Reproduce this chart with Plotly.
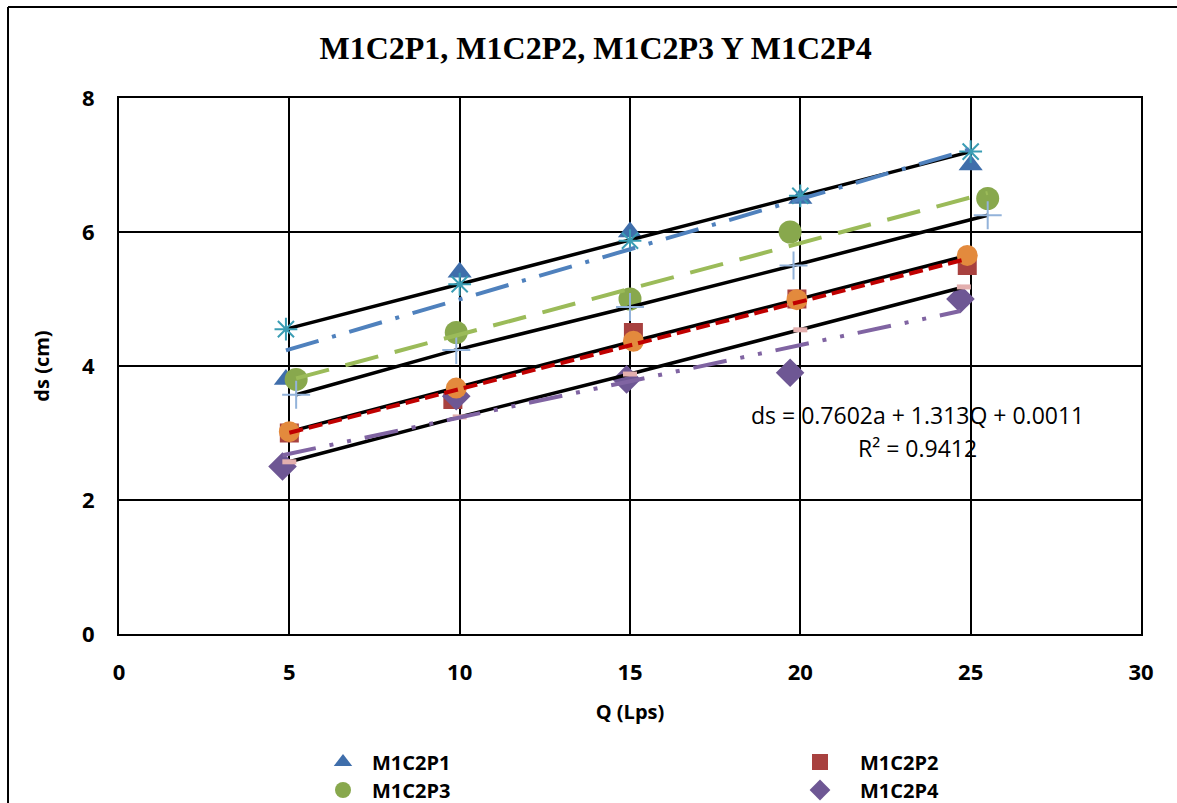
import numpy as np
import plotly.graph_objects as go

# ---- data ----
p1_x = [4.9, 10, 15, 20, 25]
p1_y = [3.8, 5.4, 6.0, 6.5, 7.0]
p2_x = [5.0, 9.8, 15.1, 19.9, 24.9]
p2_y = [3.0, 3.5, 4.5, 5.0, 5.5]
p3_x = [5.2, 9.9, 15.0, 19.7, 25.5]
p3_y = [3.8, 4.5, 5.0, 6.0, 6.5]
p4_x = [4.8, 9.9, 14.9, 19.7, 24.7]
p4_y = [2.5, 3.55, 3.8, 3.9, 5.0]

# model (calculated) series
m1_x = [4.9, 10, 15, 20, 25]
m1_y = [4.55, 5.22, 5.87, 6.54, 7.2]
m2_x = [5.0, 9.9, 15.1, 19.9, 24.9]
m2_y = [3.02, 3.67, 4.37, 4.99, 5.65]
m3_x = [5.2, 9.9, 15.0, 19.8, 25.5]
m3_y = [3.57, 4.24, 4.88, 5.5, 6.25]
m4_x = [5.0, 10.0, 15.0, 20.0, 24.8]
m4_y = [2.57, 3.24, 3.88, 4.54, 5.18]

names = ["M1C2P1", "M1C2P2", "M1C2P3", "M1C2P4"]
eq_text = "ds = 0.7602a + 1.313Q + 0.0011"
r2_text = "R² = 0.9412"
title_text = "M1C2P1, M1C2P2, M1C2P3 Y M1C2P4"
x_ticks = [0, 5, 10, 15, 20, 25, 30]
y_ticks = [0, 2, 4, 6, 8]

fig = go.Figure()

FONT = "Open Sans"

def trend(xs, ys):
    a, b = np.polyfit(xs, ys, 1)
    xx = np.array([min(xs), max(xs)])
    return xx, a * xx + b

# measured series
fig.add_trace(go.Scatter(x=p1_x, y=p1_y, mode="markers", name=names[0], legend="legend",
                         marker=dict(symbol="triangle-up", size=21, color="#3F6EAB")))
fig.add_trace(go.Scatter(x=p2_x, y=p2_y, mode="markers", name=names[1], legend="legend2",
                         marker=dict(symbol="square", size=19, color="#A8413F")))
fig.add_trace(go.Scatter(x=p3_x, y=p3_y, mode="markers", name=names[2], legend="legend3",
                         marker=dict(symbol="circle", size=23, color="#88A84D")))
fig.add_trace(go.Scatter(x=p4_x, y=p4_y, mode="markers", name=names[3], legend="legend4",
                         marker=dict(symbol="diamond", size=22, color="#6E5794")))

# model series with black lines
fig.add_trace(go.Scatter(x=m1_x, y=m1_y, mode="lines+markers", showlegend=False,
                         line=dict(color="black", width=3.5),
                         marker=dict(symbol="asterisk-open", size=19, color="#3A9DB4",
                                     line=dict(width=2, color="#3A9DB4"))))
fig.add_trace(go.Scatter(x=m2_x, y=m2_y, mode="lines+markers", showlegend=False,
                         line=dict(color="black", width=3.5),
                         marker=dict(symbol="circle", size=21, color="#E38A3D")))
fig.add_trace(go.Scatter(x=m3_x, y=m3_y, mode="lines+markers", showlegend=False,
                         line=dict(color="black", width=3.5),
                         marker=dict(symbol="cross-thin-open", size=20, color="#93B3DA",
                                     line=dict(width=2, color="#93B3DA"))))
fig.add_trace(go.Scatter(x=m4_x, y=m4_y, mode="lines+markers", showlegend=False,
                         line=dict(color="black", width=3.5),
                         marker=dict(symbol="line-ew-open", size=10, color="#E3AFAE",
                                     line=dict(width=5, color="#E3AFAE"))))

# trendlines
tx, ty = trend(p1_x, p1_y)
fig.add_trace(go.Scatter(x=tx, y=ty, mode="lines", showlegend=False,
                         line=dict(color="#4F81BD", width=4, dash="34px,14px,4px,14px")))
tx, ty = trend(p3_x, p3_y)
fig.add_trace(go.Scatter(x=tx, y=ty, mode="lines", showlegend=False,
                         line=dict(color="#9BBB59", width=4, dash="34px,17px")))
tx, ty = trend(p2_x, p2_y)
fig.add_trace(go.Scatter(x=tx, y=ty, mode="lines", showlegend=False,
                         line=dict(color="#C00000", width=4, dash="14px,6px")))
tx, ty = trend(p4_x, p4_y)
fig.add_trace(go.Scatter(x=tx, y=ty, mode="lines", showlegend=False,
                         line=dict(color="#8064A2", width=4, dash="34px,14px,4px,14px,4px,14px")))

fig.add_annotation(x=23.45, y=3.27, xref="x", yref="y", text=eq_text, showarrow=False,
                   font=dict(family=FONT, size=23, color="black"), xanchor="center", yanchor="middle")
fig.add_annotation(x=23.45, y=2.77, xref="x", yref="y", text=r2_text, showarrow=False,
                   font=dict(family=FONT, size=23, color="black"), xanchor="center", yanchor="middle")

# outer chart border (left and top)
fig.add_shape(type="line", xref="paper", yref="paper", x0=-0.1086, x1=-0.1086, y0=-0.35, y1=1.1698,
              line=dict(color="black", width=2))
fig.add_shape(type="line", xref="paper", yref="paper", x0=-0.1086, x1=1.1, y0=1.1698, y1=1.1698,
              line=dict(color="black", width=2))

axis_common = dict(showgrid=True, gridcolor="black", gridwidth=2, showline=True, linecolor="black",
                   linewidth=2, mirror=True, zeroline=False, ticks="",
                   tickfont=dict(family=FONT, size=22, color="black", weight="bold"))

leg_font = dict(family=FONT, size=20, color="black", weight="bold")
def leg(xpx, ypx, iw):
    return dict(orientation="v", x=(xpx - 119) / 1022, y=(634 - ypx) / 536, xanchor="left",
                yanchor="middle", itemwidth=iw, font=leg_font, bgcolor="rgba(0,0,0,0)",
                borderwidth=0)

fig.update_layout(
    width=1177, height=803,
    margin=dict(l=119, r=36, t=98, b=169, autoexpand=False),
    paper_bgcolor="white", plot_bgcolor="white",
    title=dict(text=title_text, x=0.506, xanchor="center", y=1 - 48 / 803, yanchor="middle",
               yref="container",
               font=dict(family="Liberation Serif", size=32, color="black", weight="bold")),
    xaxis=dict(range=[0, 30], tickvals=x_ticks, ticklabelstandoff=18,
               title=dict(text="Q (Lps)", standoff=20,
                          font=dict(family=FONT, size=20, color="black", weight="bold")),
               **axis_common),
    yaxis=dict(range=[0, 8], tickvals=y_ticks, ticklabelstandoff=18,
               title=dict(text="ds (cm)", standoff=27,
                          font=dict(family=FONT, size=20, color="black", weight="bold")),
               **axis_common),
    legend=leg(343 - 29, 762, 48),
    legend2=leg(820 - 40, 762, 70),
    legend3=leg(343 - 29, 790, 48),
    legend4=leg(820 - 40, 790, 70),
)

fig.write_html("out.html")
